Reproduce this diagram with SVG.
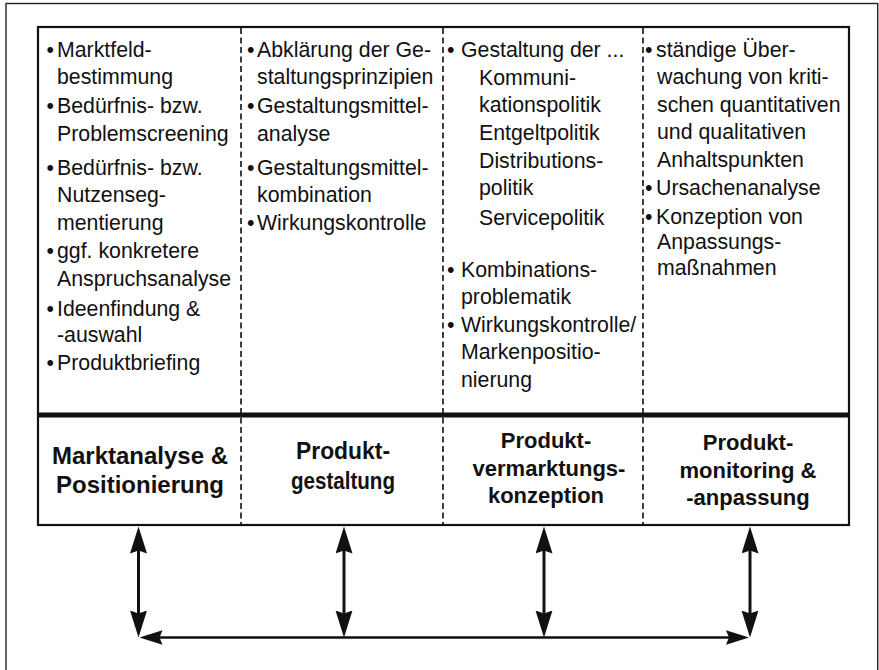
<svg xmlns="http://www.w3.org/2000/svg" width="879" height="670" viewBox="0 0 879 670">
  <style>
    .frame { fill: none; stroke: #222; stroke-width: 1.4; }
    .box { fill: none; stroke: #111; stroke-width: 2.2; }
    .bar { stroke: #111; stroke-width: 5; }
    .sep { stroke: #111; stroke-width: 1.6; stroke-dasharray: 6 3.5; }
    .t { font-family: "Liberation Sans", Arial, Helvetica, sans-serif; font-size: 21.3px; fill: #111; }
    .b { font-family: "Liberation Sans", Arial, Helvetica, sans-serif; font-size: 22px; font-weight: bold; fill: #111; text-anchor: middle; }
    .bl { font-size: 24px; }
    .av { stroke: #111; stroke-width: 3; fill: none; marker-start: url(#headV); marker-end: url(#headV); }
    .ah { stroke: #111; stroke-width: 2.6; fill: none; marker-start: url(#headH); marker-end: url(#headH); }
  </style>
  <defs>
    <marker id="headV" markerUnits="userSpaceOnUse" markerWidth="28" markerHeight="18" refX="17" refY="8.5" orient="auto-start-reverse">
      <path d="M0,0 L27,8.5 L0,17 L3,8.5 Z" fill="#111"/>
    </marker>
    <marker id="headH" markerUnits="userSpaceOnUse" markerWidth="24" markerHeight="15" refX="13" refY="7.25" orient="auto-start-reverse">
      <path d="M0,0 L23,7.25 L0,14.5 L3,7.25 Z" fill="#111"/>
    </marker>
  </defs>

  <rect width="879" height="670" fill="#fff"/>

  <!-- outer frame (bottom edge runs past the page) -->
  <rect class="frame" x="6" y="3.5" width="871.7" height="672"/>

  <!-- phase table: box, heavy divider, dashed column separators -->
  <g id="table">
    <rect class="box" x="38" y="27" width="811" height="498"/>
    <line class="bar" x1="38" y1="415" x2="849" y2="415"/>
    <line class="sep" x1="241" y1="28" x2="241" y2="524"/>
    <line class="sep" x1="443" y1="28" x2="443" y2="524"/>
    <line class="sep" x1="643" y1="28" x2="643" y2="524"/>
  </g>

  <!-- phase 1 -->
  <g id="phase-marktanalyse">
    <text class="t"><tspan x="46.5" y="57">•</tspan><tspan x="57" y="57">Marktfeld-</tspan></text>
    <text class="t" x="57" y="84">bestimmung</text>
    <text class="t"><tspan x="46.5" y="113">•</tspan><tspan x="57" y="113">Bedürfnis- bzw.</tspan></text>
    <text class="t" x="57" y="141">Problemscreening</text>
    <text class="t"><tspan x="46.5" y="175">•</tspan><tspan x="57" y="175">Bedürfnis- bzw.</tspan></text>
    <text class="t" x="57" y="202">Nutzenseg-</text>
    <text class="t" x="57" y="230">mentierung</text>
    <text class="t"><tspan x="46.5" y="258">•</tspan><tspan x="57" y="258">ggf. konkretere</tspan></text>
    <text class="t" x="57" y="286">Anspruchsanalyse</text>
    <text class="t"><tspan x="46.5" y="316">•</tspan><tspan x="57" y="316">Ideenfindung &amp;</tspan></text>
    <text class="t" x="57" y="342">-auswahl</text>
    <text class="t"><tspan x="46.5" y="370">•</tspan><tspan x="57" y="370">Produktbriefing</tspan></text>
    <text class="b bl" x="140" y="464">Marktanalyse &amp;</text>
    <text class="b bl" x="140" y="493">Positionierung</text>
  </g>

  <!-- phase 2 -->
  <g id="phase-gestaltung">
    <text class="t"><tspan x="247" y="57">•</tspan><tspan x="257" y="57">Abklärung der Ge-</tspan></text>
    <text class="t" x="257" y="84">staltungsprinzipien</text>
    <text class="t"><tspan x="247" y="113">•</tspan><tspan x="257" y="113">Gestaltungsmittel-</tspan></text>
    <text class="t" x="257" y="141">analyse</text>
    <text class="t"><tspan x="247" y="175">•</tspan><tspan x="257" y="175">Gestaltungsmittel-</tspan></text>
    <text class="t" x="257" y="202">kombination</text>
    <text class="t"><tspan x="247" y="230">•</tspan><tspan x="257" y="230">Wirkungskontrolle</tspan></text>
    <text class="b bl" x="343" y="459" textLength="94" lengthAdjust="spacingAndGlyphs">Produkt-</text>
    <text class="b bl" x="343" y="489" textLength="104" lengthAdjust="spacingAndGlyphs">gestaltung</text>
  </g>

  <!-- phase 3 -->
  <g id="phase-vermarktung">
    <text class="t"><tspan x="447" y="57">•</tspan><tspan x="461" y="57">Gestaltung der ...</tspan></text>
    <text class="t" x="479" y="85">Kommuni-</text>
    <text class="t" x="479" y="112">kationspolitik</text>
    <text class="t" x="479" y="140">Entgeltpolitik</text>
    <text class="t" x="479" y="168">Distributions-</text>
    <text class="t" x="479" y="195">politik</text>
    <text class="t" x="479" y="225">Servicepolitik</text>
    <text class="t"><tspan x="447" y="277">•</tspan><tspan x="461" y="277">Kombinations-</tspan></text>
    <text class="t" x="461" y="304">problematik</text>
    <text class="t"><tspan x="447" y="332">•</tspan><tspan x="461" y="332">Wirkungskontrolle/</tspan></text>
    <text class="t" x="461" y="359">Markenpositio-</text>
    <text class="t" x="461" y="387">nierung</text>
    <text class="b" x="546" y="448">Produkt-</text>
    <text class="b" x="549" y="476">vermarktungs-</text>
    <text class="b" x="546" y="503">konzeption</text>
  </g>

  <!-- phase 4 -->
  <g id="phase-monitoring">
    <text class="t"><tspan x="645" y="57">•</tspan><tspan x="656" y="57">ständige Über-</tspan></text>
    <text class="t" x="657" y="84">wachung von kriti-</text>
    <text class="t" x="657" y="112">schen quantitativen</text>
    <text class="t" x="657" y="139">und qualitativen</text>
    <text class="t" x="657" y="167">Anhaltspunkten</text>
    <text class="t"><tspan x="645" y="195">•</tspan><tspan x="656" y="195">Ursachenanalyse</tspan></text>
    <text class="t"><tspan x="645" y="224">•</tspan><tspan x="656" y="224">Konzeption von</tspan></text>
    <text class="t" x="657" y="249">Anpassungs-</text>
    <text class="t" x="657" y="275">maßnahmen</text>
    <text class="b" x="748" y="450">Produkt-</text>
    <text class="b" x="748" y="477.5">monitoring &amp;</text>
    <text class="b" x="748" y="505">-anpassung</text>
  </g>

  <!-- feedback links between the phases -->
  <g id="connectors">
    <line class="av" x1="138.5" y1="536.5" x2="138.5" y2="627.5"/>
    <line class="av" x1="344" y1="536.5" x2="344" y2="627.5"/>
    <line class="av" x1="544" y1="536.5" x2="544" y2="627.5"/>
    <line class="av" x1="750" y1="536.5" x2="750" y2="627.5"/>
    <line class="ah" x1="149.5" y1="637.5" x2="739" y2="637.5"/>
  </g>
</svg>
